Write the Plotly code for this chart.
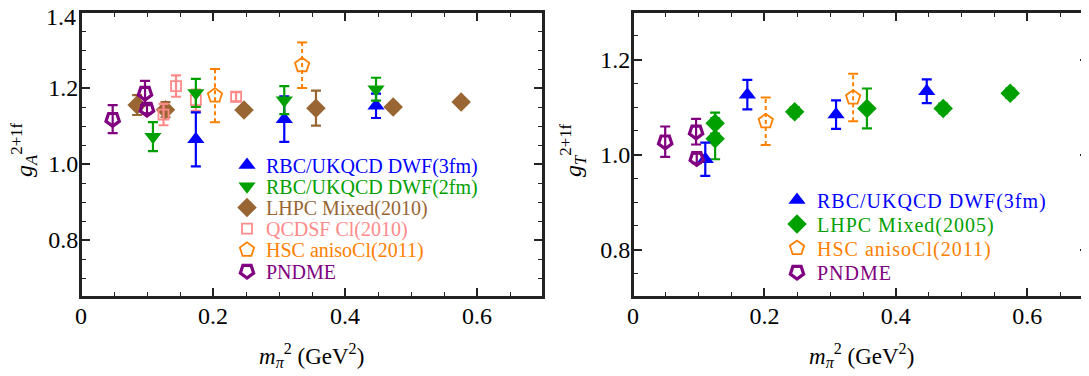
import plotly.graph_objects as go

# ---------------- data: left panel g_A ----------------
rbc3_gA_x = [0.174, 0.308, 0.447]
rbc3_gA = [1.065, 1.118, 1.153]
rbc3_gA_err = [0.071, 0.060, 0.032]

rbc2_gA_x = [0.109, 0.174, 0.308, 0.447]
rbc2_gA = [1.072, 1.187, 1.168, 1.197]
rbc2_gA_err = [0.038, 0.037, 0.037, 0.030]

lhpc10_gA_x = [0.085, 0.128, 0.247, 0.356, 0.473, 0.576]
lhpc10_gA = [1.155, 1.143, 1.142, 1.147, 1.150, 1.163]
lhpc10_gA_err = [0.026, 0.020, 0.010, 0.046, 0.010, 0.010]

qcdsf_gA_x = [0.125, 0.144, 0.174, 0.235]
qcdsf_gA = [1.130, 1.205, 1.168, 1.177]
qcdsf_gA_err = [0.028, 0.028, 0.028, 0.012]

hsc_gA_x = [0.203, 0.335]
hsc_gA = [1.180, 1.260]
hsc_gA_err = [0.070, 0.060]

pndme_gA_x = [0.048, 0.097, 0.100]
pndme_gA = [1.118, 1.187, 1.145]
pndme_gA_err = [0.037, 0.032, 0.012]

# ---------------- data: right panel g_T ----------------
rbc3_gT_x = [0.110, 0.174, 0.309, 0.447]
rbc3_gT = [0.990, 1.126, 1.084, 1.133]
rbc3_gT_err = [0.035, 0.031, 0.030, 0.025]

lhpc05_gT_x = [0.125, 0.125, 0.246, 0.356, 0.472, 0.574]
lhpc05_gT = [1.066, 1.033, 1.090, 1.097, 1.097, 1.129]
lhpc05_gT_err = [0.022, 0.043, 0.010, 0.042, 0.010, 0.010]

hsc_gT_x = [0.202, 0.335]
hsc_gT = [1.070, 1.120]
hsc_gT_err = [0.050, 0.050]

pndme_gT_x = [0.049, 0.096, 0.097]
pndme_gT = [1.027, 1.048, 0.992]
pndme_gT_err = [0.032, 0.027, 0.010]

left_legend = ["RBC/UKQCD DWF(3fm)", "RBC/UKQCD DWF(2fm)", "LHPC Mixed(2010)",
               "QCDSF Cl(2010)", "HSC anisoCl(2011)", "PNDME"]
right_legend = ["RBC/UKQCD DWF(3fm)", "LHPC Mixed(2005)", "HSC anisoCl(2011)", "PNDME"]

# tick values (axis scaffolding)
x_major = [0.0, 0.2, 0.4, 0.6]
x_minor = [0.05, 0.1, 0.15, 0.25, 0.3, 0.35, 0.45, 0.5, 0.55, 0.65]
left_y_major = [0.8, 1.0, 1.2, 1.4]
left_y_minor = [0.7, 0.75, 0.85, 0.9, 0.95, 1.05, 1.1, 1.15, 1.25, 1.3, 1.35]
right_y_major = [0.8, 1.0, 1.2]
right_y_minor = [0.75, 0.85, 0.9, 0.95, 1.05, 1.1, 1.15, 1.25]

# ---------------- layout geometry (screen pixels; page has an 8px body margin) ----------------
OFF = 8
W, H = 1089 - OFF, 376 - OFF
FONT = "Liberation Serif"
BLUE = "#0000ff"
GREEN = "#00a000"
BROWN = "#996633"
PINK = "#ff8a8a"
ORANGE = "#ff8000"
PURPLE = "#800080"
FRAME = "#222222"

styles = {
    "rbc3": dict(symbol="triangle-up", color=BLUE, size=15, line=dict(width=0)),
    "rbc2": dict(symbol="triangle-down", color=GREEN, size=15, line=dict(width=0)),
    "lhpc10": dict(symbol="diamond", color=BROWN, size=15, line=dict(width=0)),
    "qcdsf": dict(symbol="square-open", color=PINK, size=10, line=dict(width=1.8, color=PINK)),
    "hsc": dict(symbol="pentagon-open", color=ORANGE, size=15, line=dict(width=1.8, color=ORANGE)),
    "pndme": dict(symbol="pentagon-open", color=PURPLE, size=14, angle=180, line=dict(width=3.2, color=PURPLE)),
    "lhpc05": dict(symbol="diamond", color=GREEN, size=15, line=dict(width=0)),
}
ecolor = {"rbc3": BLUE, "rbc2": GREEN, "lhpc10": BROWN, "qcdsf": PINK,
          "hsc": ORANGE, "pndme": PURPLE, "lhpc05": GREEN}

L_X0, L_X1 = 81, 543
R_X0, R_X1 = 633, 1089
Y_TOP, Y_BOT = 12, 297
L_XRANGE = [0, 0.7]
R_XRANGE = [0, 0.7 * (R_X1 - R_X0) / (1093 - R_X0)]
L_YRANGE = [0.65, 1.4]
R_YRANGE = [0.7, 1.3]
CAP_PX = 5
MAJ, MIN_ = 9, 5


def px_x(px):
    return (px - OFF) / W


def px_y(py):
    return 1 - (py - OFF) / H


lppu = (L_X1 - L_X0) / (L_XRANGE[1] - L_XRANGE[0])
rppu = (R_X1 - R_X0) / (R_XRANGE[1] - R_XRANGE[0])
lppy = (Y_BOT - Y_TOP) / (L_YRANGE[1] - L_YRANGE[0])
rppy = (Y_BOT - Y_TOP) / (R_YRANGE[1] - R_YRANGE[0])

fig = go.Figure()

# panel frames as line traces along the axis range limits
fig.add_trace(go.Scatter(
    x=[L_XRANGE[1], L_XRANGE[0], L_XRANGE[0], L_XRANGE[1], L_XRANGE[1]],
    y=[L_YRANGE[1], L_YRANGE[1], L_YRANGE[0], L_YRANGE[0], L_YRANGE[1]],
    mode="lines", xaxis="x", yaxis="y", cliponaxis=False,
    line=dict(color=FRAME, width=2), showlegend=False, hoverinfo="skip"))
fig.add_trace(go.Scatter(
    x=[R_XRANGE[1], R_XRANGE[0], R_XRANGE[0], R_XRANGE[1]],
    y=[R_YRANGE[1], R_YRANGE[1], R_YRANGE[0], R_YRANGE[0]],
    mode="lines", xaxis="x2", yaxis="y2", cliponaxis=False,
    line=dict(color=FRAME, width=2), showlegend=False, hoverinfo="skip"))


def add_series(key, xs, ys, errs, xa, ya, dashed=False, px_per_unit=660.0):
    if dashed:
        dx = CAP_PX / px_per_unit
        vx, vy, cx, cy = [], [], [], []
        for x, y, e in zip(xs, ys, errs):
            vx += [x, x, None]
            vy += [y - e, y + e, None]
            cx += [x - dx, x + dx, None, x - dx, x + dx, None]
            cy += [y - e, y - e, None, y + e, y + e, None]
        fig.add_trace(go.Scatter(x=vx, y=vy, mode="lines", xaxis=xa, yaxis=ya,
                                 line=dict(color=ecolor[key], width=2, dash="4px,3px"),
                                 showlegend=False, hoverinfo="skip"))
        fig.add_trace(go.Scatter(x=cx, y=cy, mode="lines", xaxis=xa, yaxis=ya,
                                 line=dict(color=ecolor[key], width=2),
                                 showlegend=False, hoverinfo="skip"))
        fig.add_trace(go.Scatter(x=xs, y=ys, mode="markers", xaxis=xa, yaxis=ya,
                                 marker=dict(**styles[key]), showlegend=False))
    else:
        fig.add_trace(go.Scatter(
            x=xs, y=ys, mode="markers", xaxis=xa, yaxis=ya,
            marker=dict(**styles[key]),
            error_y=dict(type="data", array=errs, visible=True, color=ecolor[key],
                         thickness=2.2, width=CAP_PX),
            showlegend=False))


# left panel
add_series("lhpc10", lhpc10_gA_x, lhpc10_gA, lhpc10_gA_err, "x", "y")
add_series("qcdsf", qcdsf_gA_x, qcdsf_gA, qcdsf_gA_err, "x", "y")
add_series("hsc", hsc_gA_x, hsc_gA, hsc_gA_err, "x", "y", dashed=True, px_per_unit=lppu)
add_series("rbc3", rbc3_gA_x, rbc3_gA, rbc3_gA_err, "x", "y")
add_series("rbc2", rbc2_gA_x, rbc2_gA, rbc2_gA_err, "x", "y")
add_series("pndme", pndme_gA_x, pndme_gA, pndme_gA_err, "x", "y")

# right panel
add_series("lhpc05", lhpc05_gT_x, lhpc05_gT, lhpc05_gT_err, "x2", "y2")
add_series("hsc", hsc_gT_x, hsc_gT, hsc_gT_err, "x2", "y2", dashed=True, px_per_unit=rppu)
add_series("rbc3", rbc3_gT_x, rbc3_gT, rbc3_gT_err, "x2", "y2")
add_series("pndme", pndme_gT_x, pndme_gT, pndme_gT_err, "x2", "y2")

# ---------------- legends (key markers placed inside each panel) ----------------
left_keys = ["rbc3", "rbc2", "lhpc10", "qcdsf", "hsc", "pndme"]
right_keys = ["rbc3", "lhpc05", "hsc", "pndme"]
annotations = []


def add_legend(keys, names, xa, ya, x0px, xr, yr, ppx, ppy, mx, tx, y0, dy, spacing=None):
    for i, (k, n) in enumerate(zip(keys, names)):
        yy = y0 + i * dy
        kx = xr[0] + (mx - x0px) / ppx
        ky = yr[1] - (yy - Y_TOP) / ppy
        fig.add_trace(go.Scatter(x=[kx], y=[ky], mode="markers", xaxis=xa, yaxis=ya,
                                 marker=dict(**styles[k]), showlegend=False, hoverinfo="skip"))
        txt = n if spacing is None else f"<span style='letter-spacing:{spacing}px'>{n}</span>"
        annotations.append(dict(x=px_x(tx), y=px_y(yy + 1), xref="paper", yref="paper",
                                text=txt, showarrow=False, xanchor="left", yanchor="middle",
                                font=dict(family=FONT, size=20, color=ecolor[k])))


add_legend(left_keys, left_legend, "x", "y", L_X0, L_XRANGE, L_YRANGE, lppu, lppy,
           247, 264, 165, 21.2)
add_legend(right_keys, right_legend, "x2", "y2", R_X0, R_XRANGE, R_YRANGE, rppu, rppy,
           797, 815, 200, 24, spacing=1)

# axis titles
XT = "<i>m</i><sub><i>π</i></sub><sup>2</sup> (GeV<sup>2</sup>)"
annotations.append(dict(x=px_x(311), y=px_y(355), xref="paper", yref="paper", showarrow=False,
                        xanchor="center", yanchor="middle",
                        text=XT, font=dict(family=FONT, size=23, color="black")))
annotations.append(dict(x=px_x(861), y=px_y(355), xref="paper", yref="paper", showarrow=False,
                        xanchor="center", yanchor="middle",
                        text=XT, font=dict(family=FONT, size=23, color="black")))
annotations.append(dict(x=px_x(24), y=px_y(150), xref="paper", yref="paper", showarrow=False,
                        xanchor="center", yanchor="middle",
                        textangle=-90, text="<i>g</i><sub><i>A</i></sub><sup>2+1f</sup>",
                        font=dict(family=FONT, size=24, color="black")))
annotations.append(dict(x=px_x(573), y=px_y(150), xref="paper", yref="paper", showarrow=False,
                        xanchor="center", yanchor="middle",
                        textangle=-90, text="<i>g</i><sub><i>T</i></sub><sup>2+1f</sup>",
                        font=dict(family=FONT, size=24, color="black")))
annotations.append(dict(x=px_x(78), y=px_y(17), xref="paper", yref="paper", showarrow=False,
                        xanchor="right", yanchor="middle", text=f"{left_y_major[-1]:.1f}",
                        font=dict(family=FONT, size=24, color="black")))


def axis(tickvals, minor_vals, standoff, fmt):
    return dict(showline=True, linecolor=FRAME, linewidth=2, mirror="ticks",
                ticks="inside", ticklen=MAJ, tickwidth=1.6, tickcolor=FRAME,
                showgrid=False, zeroline=False, automargin=False,
                ticklabeloverflow="allow", ticklabelstandoff=standoff,
                tickmode="array", tickvals=tickvals, tickformat=fmt,
                tickfont=dict(family=FONT, size=24, color="black"),
                minor=dict(tickmode="array", tickvals=minor_vals, ticks="inside",
                           ticklen=MIN_, tickwidth=1.4, tickcolor=FRAME, showgrid=False))


fig.update_layout(
    template="none",
    width=W, height=H, margin=dict(l=0, r=0, t=0, b=0, pad=0, autoexpand=False),
    paper_bgcolor="white", plot_bgcolor="white",
    showlegend=False,
    font=dict(family=FONT),
    xaxis=dict(domain=[px_x(L_X0), px_x(L_X1)], range=L_XRANGE, anchor="y",
               **axis(x_major, x_minor, -4, "~g")),
    yaxis=dict(domain=[px_y(Y_BOT), px_y(Y_TOP)], range=L_YRANGE, anchor="x",
               **axis(left_y_major[:-1], left_y_minor, -4, ".1f")),
    xaxis2=dict(domain=[px_x(R_X0), min(1.0, px_x(R_X1))], range=R_XRANGE, anchor="y2",
                **axis(x_major, x_minor, -4, "~g")),
    yaxis2=dict(domain=[px_y(Y_BOT), px_y(Y_TOP)], range=R_YRANGE, anchor="x2",
                **axis(right_y_major, right_y_minor, -4, ".1f")),
    annotations=annotations,
)

fig.write_html("out.html")
